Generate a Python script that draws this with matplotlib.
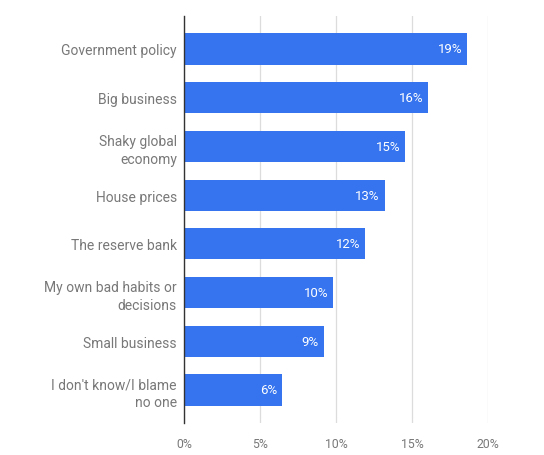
import matplotlib
matplotlib.use("Agg")
import matplotlib.pyplot as plt
from matplotlib.ticker import FuncFormatter

categories = [
    "Government policy",
    "Big business",
    "Shaky global\neconomy",
    "House prices",
    "The reserve bank",
    "My own bad habits or\ndecisions",
    "Small business",
    "I don't know/I blame\nno one",
]
shares = [18.65, 16.07, 14.54, 13.2, 11.92, 9.82, 9.2, 6.48]
x_ticks = [0, 5, 10, 15, 20]

BLUE = "#3574ee"
TEXT = "#787878"

plt.rcParams["font.family"] = ["Roboto", "DejaVu Sans"]

fig = plt.figure(figsize=(5.44, 4.56), dpi=100)
ax = fig.add_axes([0.338, 0.07, 0.559, 0.893])

y = list(range(len(categories)))
bars = ax.barh(y, shares, height=0.64, color=BLUE, zorder=3)

for bar, v in zip(bars, shares):
    ax.annotate(f"{v:.0f}%", xy=(bar.get_width(), bar.get_y() + bar.get_height() / 2),
                xytext=(-3.5, 0), textcoords="offset points",
                ha="right", va="center", color="white", fontsize=9.5, zorder=4)

ax.set_ylim(len(categories) - 1 + 0.68, -0.68)
ax.set_xlim(0, 20)
ax.set_xticks(x_ticks)
ax.xaxis.set_major_formatter(FuncFormatter(lambda v, p: f"{v:.0f}%"))
ax.set_yticks(y)
ax.set_yticklabels(categories, color=TEXT, fontsize=10, linespacing=1.35)
for lbl in ax.get_xticklabels():
    lbl.set_color(TEXT)
    lbl.set_fontsize(8.8)

ax.grid(axis="x", color="#dcdcdc", linewidth=0.9, zorder=0)
ax.grid(axis="y", visible=False)
for side in ["top", "right", "bottom"]:
    ax.spines[side].set_visible(False)
ax.spines["left"].set_color("#333333")
ax.spines["left"].set_linewidth(1.0)
ax.spines["left"].set_zorder(5)
ax.tick_params(axis="both", length=0)
ax.tick_params(axis="y", pad=5)
ax.tick_params(axis="x", pad=10)

fig.savefig("out.png", dpi=100, facecolor="white")
